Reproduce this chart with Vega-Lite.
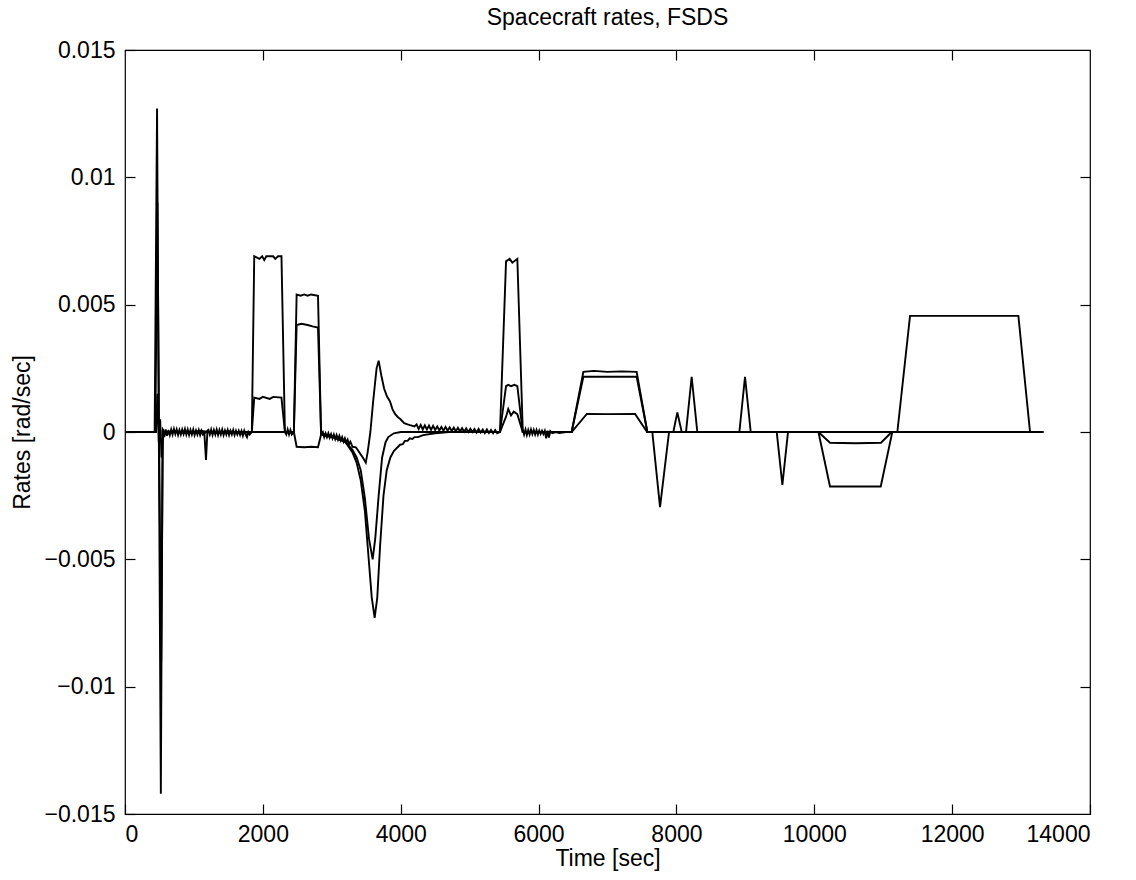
{
  "$schema": "https://vega.github.io/schema/vega-lite/v6.json",
  "width": 965,
  "height": 764,
  "autosize": {"type": "none"},
  "padding": {"left": 125, "top": 50, "right": 46, "bottom": 66},
  "background": "white",
  "config": {
    "view": {"stroke": "black", "strokeWidth": 1.2},
    "font": "Liberation Sans",
    "axis": {"grid": false, "domain": false, "tickColor": "black", "tickWidth": 1.2, "labelColor": "black", "labelFont": "Liberation Sans", "labelFontSize": 23, "titleFont": "Liberation Sans", "titleFontSize": 23, "titleFontWeight": "normal", "titleColor": "black"}
  },
  "title": {"text": "Spacecraft rates, FSDS", "fontSize": 23, "fontWeight": "normal", "font": "Liberation Sans", "color": "black", "offset": 9},
  "data": {"values": [
    {"s": "x", "t": 0, "v": 0}, {"s": "x", "t": 430, "v": 0}, {"s": "x", "t": 465, "v": 0.0127}, {"s": "x", "t": 490, "v": 0.0003}, {"s": "x", "t": 520, "v": -0.0142}, {"s": "x", "t": 545, "v": 0.0001},
    {"s": "x", "t": 570, "v": -0.0002}, {"s": "x", "t": 590, "v": 0.0001}, {"s": "x", "t": 610, "v": -0.00015}, {"s": "x", "t": 630, "v": 0.00008}, {"s": "x", "t": 650, "v": -0.00012}, {"s": "x", "t": 670, "v": 0.0001}, {"s": "x", "t": 690, "v": -0.0001}, {"s": "x", "t": 710, "v": 0.00012}, {"s": "x", "t": 730, "v": -0.00008}, {"s": "x", "t": 750, "v": 0.0001}, {"s": "x", "t": 770, "v": -0.00012}, {"s": "x", "t": 790, "v": 0.00008}, {"s": "x", "t": 810, "v": -0.0001}, {"s": "x", "t": 830, "v": 0.0001}, {"s": "x", "t": 850, "v": -0.00008}, {"s": "x", "t": 870, "v": 0.00012}, {"s": "x", "t": 890, "v": -0.0001}, {"s": "x", "t": 910, "v": 0.0001}, {"s": "x", "t": 930, "v": -0.00012}, {"s": "x", "t": 950, "v": 0.00008}, {"s": "x", "t": 970, "v": -0.0001}, {"s": "x", "t": 990, "v": 0.0001}, {"s": "x", "t": 1010, "v": -0.00012}, {"s": "x", "t": 1030, "v": 0.00006}, {"s": "x", "t": 1050, "v": -0.0001}, {"s": "x", "t": 1070, "v": 0.00008}, {"s": "x", "t": 1090, "v": -0.00012}, {"s": "x", "t": 1110, "v": 0.00005}, {"s": "x", "t": 1130, "v": -0.0001}, {"s": "x", "t": 1210, "v": 0.00008}, {"s": "x", "t": 1230, "v": -0.0001}, {"s": "x", "t": 1250, "v": 0.0001}, {"s": "x", "t": 1270, "v": -0.00012}, {"s": "x", "t": 1290, "v": 0.00008}, {"s": "x", "t": 1310, "v": -0.0001}, {"s": "x", "t": 1330, "v": 0.0001}, {"s": "x", "t": 1350, "v": -0.00012}, {"s": "x", "t": 1370, "v": 0.00008}, {"s": "x", "t": 1390, "v": -0.0001}, {"s": "x", "t": 1410, "v": 0.0001}, {"s": "x", "t": 1430, "v": -0.00012}, {"s": "x", "t": 1450, "v": 0.00006}, {"s": "x", "t": 1470, "v": -0.0001}, {"s": "x", "t": 1490, "v": 0.00008}, {"s": "x", "t": 1510, "v": -0.00012}, {"s": "x", "t": 1530, "v": 0.00005}, {"s": "x", "t": 1550, "v": -0.0001}, {"s": "x", "t": 1570, "v": 0.00008}, {"s": "x", "t": 1590, "v": -0.00012}, {"s": "x", "t": 1610, "v": 0.00005}, {"s": "x", "t": 1630, "v": -0.0001}, {"s": "x", "t": 1650, "v": 0.00005}, {"s": "x", "t": 1670, "v": -0.00012}, {"s": "x", "t": 1690, "v": 0.00004}, {"s": "x", "t": 1710, "v": -0.00015}, {"s": "x", "t": 1730, "v": 0.00005}, {"s": "x", "t": 1750, "v": -0.0001}, {"s": "x", "t": 1770, "v": -0.0002}, {"s": "x", "t": 1790, "v": 0}, {"s": "x", "t": 1810, "v": -0.0001},
    {"s": "x", "t": 1840, "v": 0}, {"s": "x", "t": 1875, "v": 0.0069}, {"s": "x", "t": 1950, "v": 0.0068}, {"s": "x", "t": 1990, "v": 0.0069}, {"s": "x", "t": 2020, "v": 0.00675}, {"s": "x", "t": 2050, "v": 0.0069}, {"s": "x", "t": 2150, "v": 0.0069}, {"s": "x", "t": 2180, "v": 0.0068}, {"s": "x", "t": 2220, "v": 0.0069}, {"s": "x", "t": 2270, "v": 0.0069}, {"s": "x", "t": 2320, "v": 0},
    {"s": "x", "t": 2340, "v": -0.0001}, {"s": "x", "t": 2360, "v": 0.0001}, {"s": "x", "t": 2380, "v": -0.0001}, {"s": "x", "t": 2400, "v": 0.00008}, {"s": "x", "t": 2420, "v": -0.0001}, {"s": "x", "t": 2450, "v": 0}, {"s": "x", "t": 2490, "v": 0.0054}, {"s": "x", "t": 2550, "v": 0.00535}, {"s": "x", "t": 2600, "v": 0.0054}, {"s": "x", "t": 2650, "v": 0.00535}, {"s": "x", "t": 2700, "v": 0.0054}, {"s": "x", "t": 2800, "v": 0.00535}, {"s": "x", "t": 2845, "v": -0.0001},
    {"s": "x", "t": 2870, "v": 0}, {"s": "x", "t": 2890, "v": -0.0002}, {"s": "x", "t": 2910, "v": -0.00005}, {"s": "x", "t": 2930, "v": -0.0002}, {"s": "x", "t": 2950, "v": -0.00005}, {"s": "x", "t": 2970, "v": -0.00022}, {"s": "x", "t": 2990, "v": -0.00008}, {"s": "x", "t": 3010, "v": -0.00025}, {"s": "x", "t": 3030, "v": -0.0001}, {"s": "x", "t": 3050, "v": -0.00028}, {"s": "x", "t": 3070, "v": -0.00012}, {"s": "x", "t": 3090, "v": -0.0003}, {"s": "x", "t": 3110, "v": -0.00015}, {"s": "x", "t": 3130, "v": -0.00033}, {"s": "x", "t": 3150, "v": -0.0002}, {"s": "x", "t": 3170, "v": -0.00038}, {"s": "x", "t": 3190, "v": -0.00025}, {"s": "x", "t": 3210, "v": -0.00042}, {"s": "x", "t": 3230, "v": -0.0003}, {"s": "x", "t": 3250, "v": -0.00048}, {"s": "x", "t": 3270, "v": -0.00038}, {"s": "x", "t": 3300, "v": -0.00058}, {"s": "x", "t": 3350, "v": -0.0006}, {"s": "x", "t": 3400, "v": -0.0008}, {"s": "x", "t": 3450, "v": -0.001}, {"s": "x", "t": 3493, "v": -0.0012}, {"s": "x", "t": 3520, "v": -0.0008}, {"s": "x", "t": 3560, "v": 0}, {"s": "x", "t": 3600, "v": 0.0012}, {"s": "x", "t": 3650, "v": 0.0025}, {"s": "x", "t": 3680, "v": 0.0028}, {"s": "x", "t": 3720, "v": 0.0022}, {"s": "x", "t": 3760, "v": 0.0017}, {"s": "x", "t": 3800, "v": 0.0014}, {"s": "x", "t": 3845, "v": 0.0012}, {"s": "x", "t": 3880, "v": 0.0009}, {"s": "x", "t": 3920, "v": 0.0007}, {"s": "x", "t": 3960, "v": 0.00058}, {"s": "x", "t": 3990, "v": 0.00052}, {"s": "x", "t": 4050, "v": 0.00035}, {"s": "x", "t": 4100, "v": 0.0003}, {"s": "x", "t": 4135, "v": 0.00027}, {"s": "x", "t": 4200, "v": 0.00022},
    {"s": "x", "t": 4230, "v": 0.0003}, {"s": "x", "t": 4260, "v": 0.00012}, {"s": "x", "t": 4290, "v": 0.00028}, {"s": "x", "t": 4320, "v": 0.0001}, {"s": "x", "t": 4350, "v": 0.00026}, {"s": "x", "t": 4380, "v": 0.0001}, {"s": "x", "t": 4410, "v": 0.00025}, {"s": "x", "t": 4440, "v": 0.00008}, {"s": "x", "t": 4470, "v": 0.00024}, {"s": "x", "t": 4500, "v": 0.00008}, {"s": "x", "t": 4530, "v": 0.00022}, {"s": "x", "t": 4560, "v": 0.00006}, {"s": "x", "t": 4590, "v": 0.0002}, {"s": "x", "t": 4620, "v": 0.00005}, {"s": "x", "t": 4650, "v": 0.0002}, {"s": "x", "t": 4680, "v": 0.00005}, {"s": "x", "t": 4710, "v": 0.00018}, {"s": "x", "t": 4740, "v": 0.00004}, {"s": "x", "t": 4770, "v": 0.00017}, {"s": "x", "t": 4800, "v": 0.00003}, {"s": "x", "t": 4830, "v": 0.00016}, {"s": "x", "t": 4860, "v": 0.00002}, {"s": "x", "t": 4890, "v": 0.00015}, {"s": "x", "t": 4920, "v": 0.00001}, {"s": "x", "t": 4950, "v": 0.00014}, {"s": "x", "t": 4980, "v": 0}, {"s": "x", "t": 5010, "v": 0.00013}, {"s": "x", "t": 5040, "v": 0}, {"s": "x", "t": 5070, "v": 0.00012}, {"s": "x", "t": 5100, "v": -0.00002}, {"s": "x", "t": 5130, "v": 0.00012}, {"s": "x", "t": 5160, "v": -0.00002}, {"s": "x", "t": 5190, "v": 0.0001}, {"s": "x", "t": 5220, "v": -0.00004}, {"s": "x", "t": 5250, "v": 0.0001}, {"s": "x", "t": 5280, "v": -0.00004}, {"s": "x", "t": 5310, "v": 0.00008}, {"s": "x", "t": 5340, "v": -0.00005}, {"s": "x", "t": 5370, "v": 0.00008}, {"s": "x", "t": 5400, "v": -0.00005}, {"s": "x", "t": 5440, "v": 0},
    {"s": "x", "t": 5528, "v": 0.0067}, {"s": "x", "t": 5580, "v": 0.0068}, {"s": "x", "t": 5620, "v": 0.00665}, {"s": "x", "t": 5692, "v": 0.0068}, {"s": "x", "t": 5770, "v": 0.0001},
    {"s": "x", "t": 5790, "v": -0.0001}, {"s": "x", "t": 5810, "v": 0.0001}, {"s": "x", "t": 5830, "v": -0.00012}, {"s": "x", "t": 5850, "v": 0.00008}, {"s": "x", "t": 5870, "v": -0.0001}, {"s": "x", "t": 5890, "v": 0.0001}, {"s": "x", "t": 5910, "v": -0.00008}, {"s": "x", "t": 5930, "v": 0.00008}, {"s": "x", "t": 5950, "v": -0.0001}, {"s": "x", "t": 5970, "v": 0.00008}, {"s": "x", "t": 5990, "v": -0.0001}, {"s": "x", "t": 6010, "v": 0.00006}, {"s": "x", "t": 6030, "v": -0.00008}, {"s": "x", "t": 6050, "v": 0.00005}, {"s": "x", "t": 6070, "v": -0.00008}, {"s": "x", "t": 6090, "v": 0.00005}, {"s": "x", "t": 6110, "v": -0.00025}, {"s": "x", "t": 6130, "v": 0.00005}, {"s": "x", "t": 6150, "v": -0.00022}, {"s": "x", "t": 6170, "v": 0.00003}, {"s": "x", "t": 6200, "v": -0.00005}, {"s": "x", "t": 6250, "v": 0}, {"s": "x", "t": 6300, "v": -0.00004}, {"s": "x", "t": 6400, "v": 0}, {"s": "x", "t": 6480, "v": 0},
    {"s": "x", "t": 6650, "v": 0.00236}, {"s": "x", "t": 6800, "v": 0.0024}, {"s": "x", "t": 7000, "v": 0.00236}, {"s": "x", "t": 7200, "v": 0.00238}, {"s": "x", "t": 7423, "v": 0.00236}, {"s": "x", "t": 7578, "v": 0}, {"s": "x", "t": 7650, "v": 0}, {"s": "x", "t": 7762, "v": -0.00295}, {"s": "x", "t": 7893, "v": 0}, {"s": "x", "t": 10060, "v": 0}, {"s": "x", "t": 10228, "v": -0.00214}, {"s": "x", "t": 10964, "v": -0.00214}, {"s": "x", "t": 11132, "v": 0}, {"s": "x", "t": 11205, "v": 0}, {"s": "x", "t": 11389, "v": 0.00456}, {"s": "x", "t": 12961, "v": 0.00456}, {"s": "x", "t": 13130, "v": 0}, {"s": "x", "t": 13323, "v": 0},

    {"s": "y", "t": 0, "v": 0}, {"s": "y", "t": 440, "v": 0}, {"s": "y", "t": 470, "v": 0.009}, {"s": "y", "t": 495, "v": -0.0003}, {"s": "y", "t": 525, "v": -0.009}, {"s": "y", "t": 550, "v": 0.0001}, {"s": "y", "t": 600, "v": -0.0001}, {"s": "y", "t": 700, "v": 0.00005}, {"s": "y", "t": 900, "v": -0.00005}, {"s": "y", "t": 1100, "v": 0.00005}, {"s": "y", "t": 1300, "v": -0.00005}, {"s": "y", "t": 1500, "v": 0.00003}, {"s": "y", "t": 1700, "v": -0.00005}, {"s": "y", "t": 1840, "v": 0},
    {"s": "y", "t": 1875, "v": 0.00135}, {"s": "y", "t": 1950, "v": 0.0013}, {"s": "y", "t": 2000, "v": 0.00138}, {"s": "y", "t": 2100, "v": 0.0013}, {"s": "y", "t": 2150, "v": 0.00138}, {"s": "y", "t": 2270, "v": 0.00135}, {"s": "y", "t": 2320, "v": 0}, {"s": "y", "t": 2450, "v": 0}, {"s": "y", "t": 2490, "v": 0.0042}, {"s": "y", "t": 2560, "v": 0.00425}, {"s": "y", "t": 2650, "v": 0.0042}, {"s": "y", "t": 2720, "v": 0.00415}, {"s": "y", "t": 2800, "v": 0.0041}, {"s": "y", "t": 2845, "v": -0.0001},
    {"s": "y", "t": 2900, "v": -0.00015}, {"s": "y", "t": 3000, "v": -0.0002}, {"s": "y", "t": 3100, "v": -0.0003}, {"s": "y", "t": 3200, "v": -0.0004}, {"s": "y", "t": 3300, "v": -0.0008}, {"s": "y", "t": 3360, "v": -0.0012}, {"s": "y", "t": 3420, "v": -0.0019}, {"s": "y", "t": 3480, "v": -0.0031}, {"s": "y", "t": 3530, "v": -0.0048}, {"s": "y", "t": 3580, "v": -0.0065}, {"s": "y", "t": 3622, "v": -0.0073}, {"s": "y", "t": 3660, "v": -0.0065}, {"s": "y", "t": 3700, "v": -0.0045}, {"s": "y", "t": 3750, "v": -0.0025}, {"s": "y", "t": 3797, "v": -0.0015}, {"s": "y", "t": 3850, "v": -0.001}, {"s": "y", "t": 3900, "v": -0.00075}, {"s": "y", "t": 3990, "v": -0.0005}, {"s": "y", "t": 4030, "v": -0.00048}, {"s": "y", "t": 4060, "v": -0.00035}, {"s": "y", "t": 4100, "v": -0.00035}, {"s": "y", "t": 4130, "v": -0.00025}, {"s": "y", "t": 4170, "v": -0.00027}, {"s": "y", "t": 4200, "v": -0.0002}, {"s": "y", "t": 4250, "v": -0.0002}, {"s": "y", "t": 4325, "v": -0.00012}, {"s": "y", "t": 4500, "v": -0.00005}, {"s": "y", "t": 4700, "v": 0}, {"s": "y", "t": 5440, "v": 0},
    {"s": "y", "t": 5528, "v": 0.0018}, {"s": "y", "t": 5560, "v": 0.00185}, {"s": "y", "t": 5600, "v": 0.0018}, {"s": "y", "t": 5650, "v": 0.00185}, {"s": "y", "t": 5692, "v": 0.0018}, {"s": "y", "t": 5770, "v": 0}, {"s": "y", "t": 6480, "v": 0}, {"s": "y", "t": 6650, "v": 0.00217}, {"s": "y", "t": 7000, "v": 0.00217}, {"s": "y", "t": 7423, "v": 0.00217}, {"s": "y", "t": 7578, "v": 0}, {"s": "y", "t": 8139, "v": 0}, {"s": "y", "t": 8221, "v": 0.00217}, {"s": "y", "t": 8303, "v": 0}, {"s": "y", "t": 8913, "v": 0}, {"s": "y", "t": 8995, "v": 0.00217}, {"s": "y", "t": 9078, "v": 0}, {"s": "y", "t": 10060, "v": 0}, {"s": "y", "t": 10228, "v": -0.00042}, {"s": "y", "t": 10600, "v": -0.00044}, {"s": "y", "t": 10968, "v": -0.00042}, {"s": "y", "t": 11123, "v": 0}, {"s": "y", "t": 13323, "v": 0},

    {"s": "z", "t": 0, "v": 0}, {"s": "z", "t": 450, "v": 0}, {"s": "z", "t": 470, "v": 0.0015}, {"s": "z", "t": 490, "v": -0.0004}, {"s": "z", "t": 510, "v": 0.0005}, {"s": "z", "t": 530, "v": -0.001}, {"s": "z", "t": 555, "v": 0}, {"s": "z", "t": 1150, "v": 0}, {"s": "z", "t": 1175, "v": -0.0011}, {"s": "z", "t": 1195, "v": 0}, {"s": "z", "t": 2450, "v": 0}, {"s": "z", "t": 2490, "v": -0.00058}, {"s": "z", "t": 2600, "v": -0.0006}, {"s": "z", "t": 2700, "v": -0.00058}, {"s": "z", "t": 2800, "v": -0.0006}, {"s": "z", "t": 2845, "v": -0.0001},
    {"s": "z", "t": 2900, "v": -0.0001}, {"s": "z", "t": 3000, "v": -0.00015}, {"s": "z", "t": 3100, "v": -0.00025}, {"s": "z", "t": 3200, "v": -0.0004}, {"s": "z", "t": 3300, "v": -0.0007}, {"s": "z", "t": 3360, "v": -0.001}, {"s": "z", "t": 3420, "v": -0.0015}, {"s": "z", "t": 3480, "v": -0.0026}, {"s": "z", "t": 3540, "v": -0.0042}, {"s": "z", "t": 3593, "v": -0.005}, {"s": "z", "t": 3630, "v": -0.0042}, {"s": "z", "t": 3680, "v": -0.0025}, {"s": "z", "t": 3730, "v": -0.001}, {"s": "z", "t": 3780, "v": -0.0004}, {"s": "z", "t": 3820, "v": -0.0002}, {"s": "z", "t": 3900, "v": -0.00005}, {"s": "z", "t": 4000, "v": 0}, {"s": "z", "t": 5440, "v": 0},
    {"s": "z", "t": 5528, "v": 0.0006}, {"s": "z", "t": 5560, "v": 0.0009}, {"s": "z", "t": 5600, "v": 0.00065}, {"s": "z", "t": 5640, "v": 0.0008}, {"s": "z", "t": 5692, "v": 0.0007}, {"s": "z", "t": 5770, "v": 0}, {"s": "z", "t": 6480, "v": 0}, {"s": "z", "t": 6700, "v": 0.00071}, {"s": "z", "t": 7000, "v": 0.0007}, {"s": "z", "t": 7400, "v": 0.00071}, {"s": "z", "t": 7575, "v": 0}, {"s": "z", "t": 7955, "v": 0}, {"s": "z", "t": 8013, "v": 0.00077}, {"s": "z", "t": 8077, "v": 0}, {"s": "z", "t": 9455, "v": 0}, {"s": "z", "t": 9537, "v": -0.00208}, {"s": "z", "t": 9619, "v": 0}, {"s": "z", "t": 13323, "v": 0}
  ]},
  "layer": [
    {
      "mark": {"type": "line", "color": "black", "strokeWidth": 1.9},
      "encoding": {
        "x": {"field": "t", "type": "quantitative", "scale": {"domain": [0, 14000], "nice": false, "zero": false},
              "axis": {"orient": "bottom", "values": [0, 2000, 4000, 6000, 8000, 10000, 12000, 14000], "format": "d", "tickSize": -10, "labelPadding": 19, "title": "Time [sec]", "titlePadding": 1}},
        "y": {"field": "v", "type": "quantitative", "scale": {"domain": [-0.015, 0.015], "nice": false, "zero": false},
              "axis": {"orient": "left", "values": [-0.015, -0.01, -0.005, 0, 0.005, 0.01, 0.015], "labelExpr": "datum.value == 0 ? '0' : replace(format(datum.value, '.3~f'), '-', '\u2212')", "tickSize": -10, "labelPadding": 20, "title": "Rates [rad/sec]", "titlePadding": 10}},
        "detail": {"field": "s", "type": "nominal"}
      }
    },
    {
      "mark": {"type": "line", "strokeOpacity": 0},
      "encoding": {
        "x": {"field": "t", "type": "quantitative", "axis": {"orient": "top", "values": [2000, 4000, 6000, 8000, 10000, 12000], "tickSize": -10, "labels": false, "title": null}},
        "y": {"field": "v", "type": "quantitative", "axis": {"orient": "right", "values": [-0.01, -0.005, 0, 0.005, 0.01], "tickSize": -10, "labels": false, "title": null}},
        "detail": {"field": "s", "type": "nominal"}
      }
    }
  ],
  "resolve": {"axis": {"x": "independent", "y": "independent"}}
}
